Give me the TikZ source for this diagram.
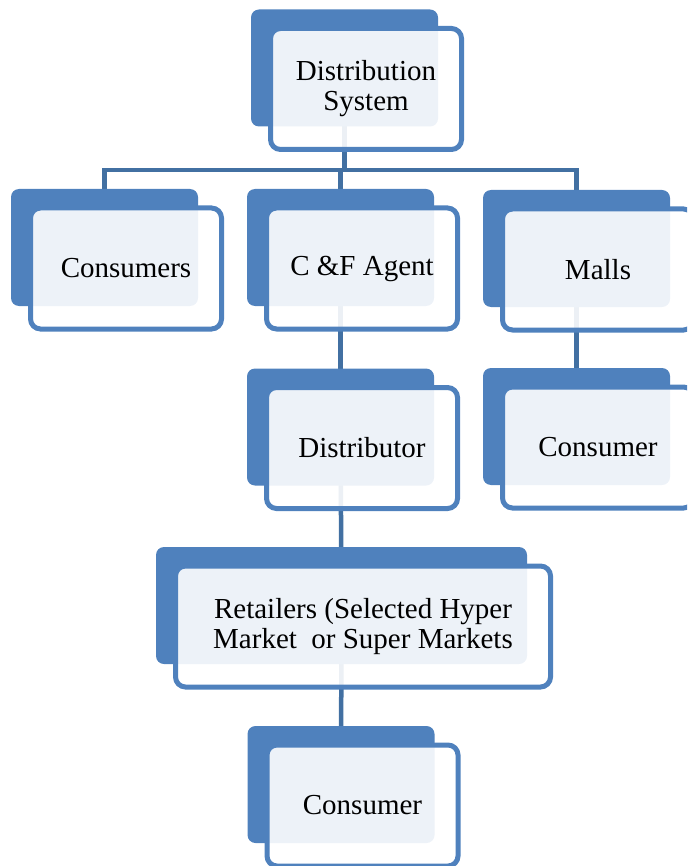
\documentclass[tikz,border=0pt]{standalone}
\usepackage{fontspec}
\setmainfont{Liberation Serif}
\definecolor{boxblue}{RGB}{79,129,189}
\definecolor{linkblue}{RGB}{66,112,162}
\begin{document}
\begin{tikzpicture}[x=1pt,y=-1pt,
 backbox/.style={draw=none, fill=boxblue, rounded corners=8pt, minimum width=187pt, minimum height=117pt, inner sep=0pt, outer sep=0pt},
 frontbox/.style={draw=boxblue, line width=5pt, fill=white, fill opacity=0.9, text opacity=1, rounded corners=10pt, minimum width=191pt, minimum height=121pt, inner sep=0pt, outer sep=0pt, align=center, font=\fontsize{29}{30}\selectfont},
 widebox/.style={minimum width=371pt},
 widefront/.style={minimum width=375pt},
 link/.style={draw=linkblue, line width=4.5pt}]
\useasboundingbox (0,0) rectangle (687,866);
\clip (0,0) rectangle (687,866);
% back boxes positions
\coordinate (dsc) at (344.5,68);
\coordinate (conc) at (104.5,247.5);
\coordinate (cfc) at (340.5,247.5);
\coordinate (mallc) at (576.5,248.5);
\coordinate (conrc) at (576.5,426.5);
\coordinate (distc) at (340.5,427);
\coordinate (retc) at (341.5,605.5);
\coordinate (conbc) at (341,784.5);
\coordinate (bar) at (344.5,170);
% connectors
\draw[link] (dsc) -- (dsc |- bar);
\draw[link] (conc) |- (bar) -| (mallc);
\draw[link] (cfc) -- (cfc |- bar);
\draw[link] (mallc) -- (conrc);
\draw[link] (cfc) -- (distc);
\draw[link] (distc) -- (retc);
\draw[link] (retc) -- (conbc);
% back boxes
\node[backbox] (dsb) at (dsc) {};
\node[backbox] (conb) at (conc) {};
\node[backbox] (cfb) at (cfc) {};
\node[backbox] (mallb) at (mallc) {};
\node[backbox] (conrb) at (conrc) {};
\node[backbox] (distb) at (distc) {};
\node[backbox,widebox] (retb) at (retc) {};
\node[backbox] (conbb) at (conbc) {};
% front boxes
\node[frontbox] (ds) at ([shift={(21.5,21)}]dsb.center) {Distribution\\System};
\node[frontbox] (con) at ([shift={(21.5,21)}]conb.center) {Consumers};
\node[frontbox] (cf) at ([shift={(21.5,21)}]cfb.center) {C \&F Agent};
\node[frontbox] (mall) at ([shift={(21.5,21)}]mallb.center) {Malls};
\node[frontbox] (conr) at ([shift={(21.5,21)}]conrb.center) {Consumer};
\node[frontbox] (dist) at ([shift={(21.5,21)}]distb.center) {Distributor};
\node[frontbox,widefront] (ret) at ([shift={(21.5,21)}]retb.center) {Retailers (Selected Hyper\\Market\ \ or Super Markets};
\node[frontbox] (conb2) at ([shift={(21.5,21)}]conbb.center) {Consumer};
\end{tikzpicture}
\end{document}
